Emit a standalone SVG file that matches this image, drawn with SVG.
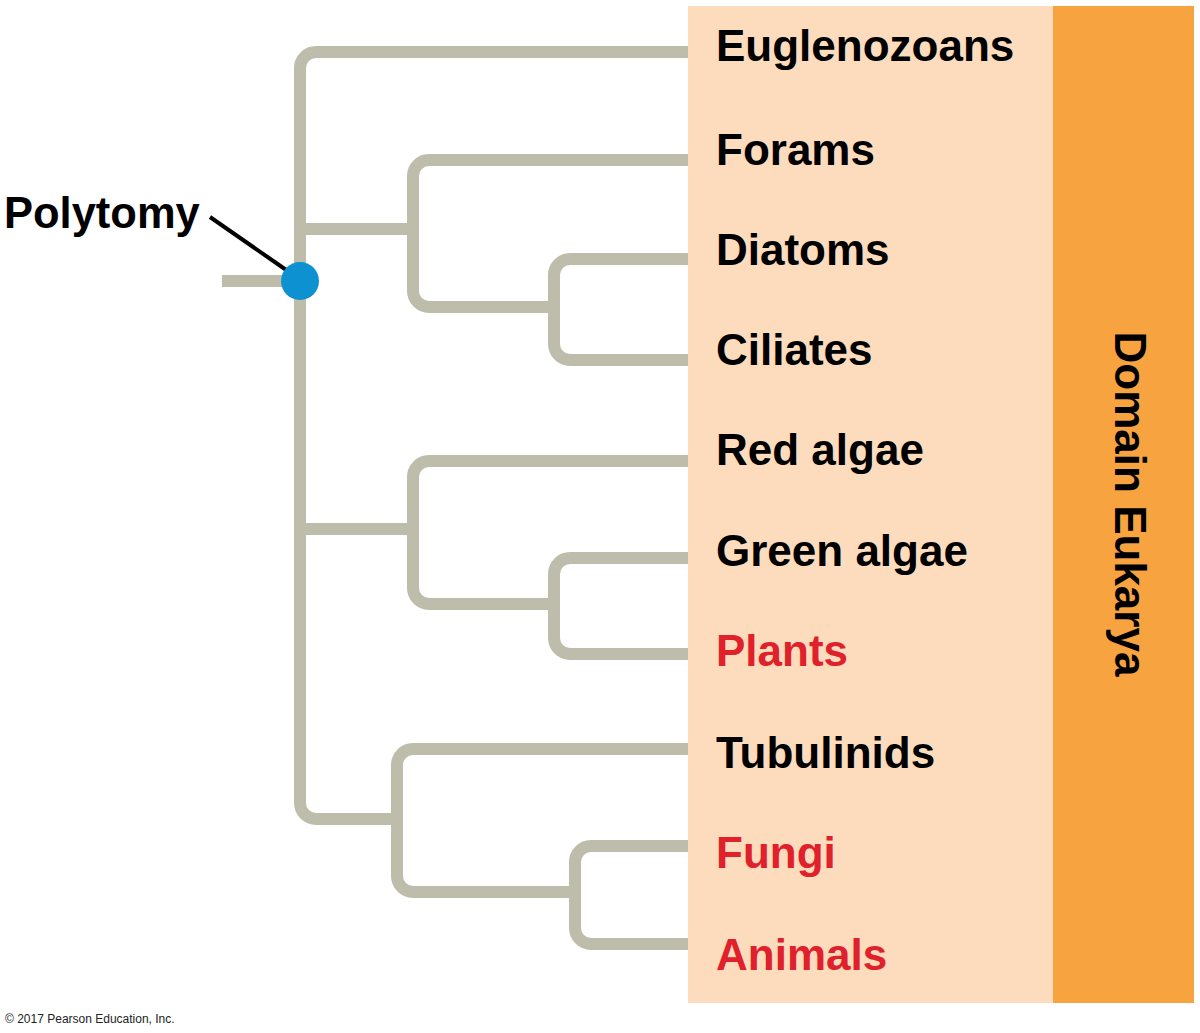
<svg xmlns="http://www.w3.org/2000/svg" width="1200" height="1033" viewBox="0 0 1200 1033">
<style>
.br{fill:none;stroke:#bebdab;stroke-width:12;stroke-linecap:butt}
.lbl{font-family:"Liberation Sans",Arial,sans-serif;font-weight:bold;font-size:44px;fill:#000}
.red{fill:#e0202a}
</style>
<rect width="1200" height="1033" fill="#fff"/>
<g id="connectors">
<path class="br" d="M 688 52 H 316 A 16 16 0 0 0 300 68 V 803 A 16 16 0 0 0 316 819 H 397"/>
<path class="br" d="M 222 281 H 300"/>
<path class="br" d="M 300 229 H 413"/>
<path class="br" d="M 688 160 H 429 A 16 16 0 0 0 413 176 V 291 A 16 16 0 0 0 429 307 H 554"/>
<path class="br" d="M 688 259 H 570 A 16 16 0 0 0 554 275 V 344 A 16 16 0 0 0 570 360 H 688"/>
<path class="br" d="M 300 529 H 413"/>
<path class="br" d="M 688 461 H 429 A 16 16 0 0 0 413 477 V 588 A 16 16 0 0 0 429 604 H 554"/>
<path class="br" d="M 688 558 H 570 A 16 16 0 0 0 554 574 V 638 A 16 16 0 0 0 570 654 H 688"/>
<path class="br" d="M 688 749 H 413 A 16 16 0 0 0 397 765 V 876 A 16 16 0 0 0 413 892 H 575"/>
<path class="br" d="M 688 846 H 591 A 16 16 0 0 0 575 862 V 928 A 16 16 0 0 0 591 944 H 688"/>
<line x1="210" y1="217" x2="292" y2="274" stroke="#000" stroke-width="4"/>
</g>
<g id="polytomy">
<circle cx="300" cy="281" r="19" fill="#0d91d0"/>
<text class="lbl" x="4" y="228" style="font-size:43.5px">Polytomy</text>
</g>
<g id="panel">
<rect x="688" y="6" width="365" height="997" fill="#fddcbd"/>
<rect x="1053" y="6" width="141" height="997" fill="#f7a440"/>
</g>
<g id="labels">
<text class="lbl" x="716" y="61">Euglenozoans</text>
<text class="lbl" x="716" y="165">Forams</text>
<text class="lbl" x="716" y="265">Diatoms</text>
<text class="lbl" x="716" y="365">Ciliates</text>
<text class="lbl" x="716" y="465">Red algae</text>
<text class="lbl" x="716" y="566">Green algae</text>
<text class="lbl red" x="716" y="666">Plants</text>
<text class="lbl" x="716" y="768">Tubulinids</text>
<text class="lbl red" x="716" y="868">Fungi</text>
<text class="lbl red" x="716" y="970">Animals</text>
</g>
<g id="domain">
<text class="lbl" transform="translate(1115,504) rotate(90)" text-anchor="middle">Domain Eukarya</text>
</g>
<text x="5" y="1023" font-family="'Liberation Sans',Arial,sans-serif" font-size="12" fill="#222">© 2017 Pearson Education, Inc.</text>
</svg>
